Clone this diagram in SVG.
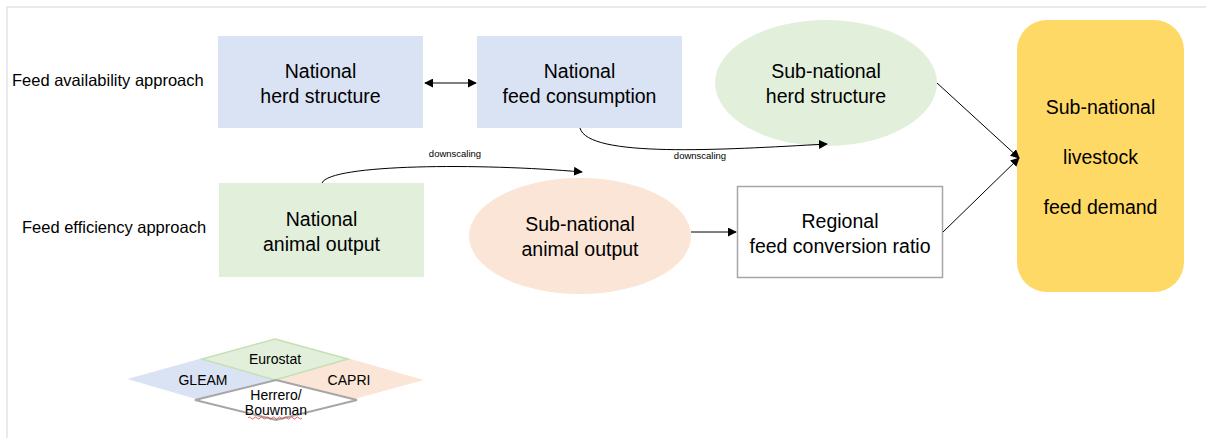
<svg xmlns="http://www.w3.org/2000/svg" width="1206" height="438" viewBox="0 0 1206 438">
<style>
  .t { font-family: "Liberation Sans", Arial, sans-serif; fill: #000; }
  .n { font-size: 19.5px; text-anchor: middle; }
  .lbl { font-size: 16.5px; }
  .sm { font-size: 9.5px; text-anchor: middle; }
  .lg { font-size: 14px; text-anchor: middle; }
  .c { fill: none; stroke: #000; stroke-width: 1; }
</style>
<defs>
  <marker id="ah" viewBox="0 0 10 10" refX="9" refY="5" markerWidth="9" markerHeight="9" markerUnits="userSpaceOnUse" orient="auto-start-reverse">
    <path d="M0,0 L10,5 L0,10 z" fill="#000"/>
  </marker>
</defs>
<rect width="1206" height="438" fill="#fff"/>
<path d="M7,438 V7 H1206" fill="none" stroke="#e2e2e2" stroke-width="1.5"/>

<text class="t lbl" x="12" y="86">Feed availability approach</text>
<text class="t lbl" x="22" y="233">Feed efficiency approach</text>

<g id="national-herd">
  <rect x="218" y="36" width="205" height="92" fill="#dae3f3"/>
  <text class="t n" x="320.5" y="78">National</text>
  <text class="t n" x="320.5" y="103">herd structure</text>
</g>
<g id="national-feed">
  <rect x="477" y="36" width="205" height="92" fill="#dae3f3"/>
  <text class="t n" x="579.5" y="78">National</text>
  <text class="t n" x="579.5" y="103">feed consumption</text>
</g>
<g id="subnational-herd">
  <ellipse cx="826" cy="83" rx="111" ry="63" fill="#e2efda"/>
  <text class="t n" x="826" y="78">Sub-national</text>
  <text class="t n" x="826" y="103">herd structure</text>
</g>
<g id="demand">
  <rect x="1017" y="20" width="167" height="272" rx="30" ry="30" fill="#ffd966"/>
  <text class="t n" x="1100.5" y="114">Sub-national</text>
  <text class="t n" x="1100.5" y="164">livestock</text>
  <text class="t n" x="1100.5" y="214">feed demand</text>
</g>
<g id="national-output">
  <rect x="219" y="183" width="205" height="94" fill="#e2efda"/>
  <text class="t n" x="321.5" y="226">National</text>
  <text class="t n" x="321.5" y="251">animal output</text>
</g>
<g id="subnational-output">
  <ellipse cx="580" cy="236" rx="111" ry="58" fill="#fbe5d6"/>
  <text class="t n" x="580" y="231">Sub-national</text>
  <text class="t n" x="580" y="256">animal output</text>
</g>
<g id="regional-fcr">
  <rect x="737.5" y="186.5" width="205" height="91" fill="#fff" stroke="#a6a6a6" stroke-width="1.5"/>
  <text class="t n" x="840" y="228">Regional</text>
  <text class="t n" x="840" y="253">feed conversion ratio</text>
</g>

<g id="connectors">
  <line class="c" x1="425" y1="83" x2="476" y2="83" marker-start="url(#ah)" marker-end="url(#ah)"/>
  <path class="c" d="M580,128 C588,158 720,150 827,144" marker-end="url(#ah)"/>
  <text class="t sm" x="700" y="159">downscaling</text>
  <path class="c" d="M322,183 C330,164 480,163 582,172" marker-end="url(#ah)"/>
  <text class="t sm" x="455" y="157">downscaling</text>
  <line class="c" x1="691" y1="232" x2="736" y2="232" marker-end="url(#ah)"/>
  <line class="c" x1="937" y1="83" x2="1019" y2="158" marker-end="url(#ah)"/>
  <line class="c" x1="943" y1="232" x2="1019" y2="158" marker-end="url(#ah)"/>
</g>

<g id="legend">
  <polygon points="202,359 275,380 202,400 130,379" fill="#dae3f3" stroke="#dae3f3" stroke-width="1.5"/>
  <polygon points="348,359 421,380 348,400 275,380" fill="#fbe5d6" stroke="#fbe5d6" stroke-width="1.5"/>
  <polygon points="275,339 348,359 275,380 202,359" fill="#e2efda" stroke="#c5e0b4" stroke-width="1.5"/>
  <polygon points="276,380 357,400 276,420 195,400" fill="#fff" stroke="#a6a6a6" stroke-width="2"/>
  <text class="t lg" x="275" y="364">Eurostat</text>
  <text class="t lg" x="203" y="385">GLEAM</text>
  <text class="t lg" x="349" y="385">CAPRI</text>
  <text class="t lg" x="276" y="400">Herrero/</text>
  <text class="t lg" x="276" y="415">Bouwman</text>
  <path d="M248,418 q1.5,-2 3,0 t3,0 t3,0 t3,0 t3,0 t3,0 t3,0 t3,0 t3,0 t3,0 t3,0 t3,0 t3,0 t3,0 t3,0 t3,0 t3,0 t3,0" fill="none" stroke="#e33" stroke-width="0.8"/>
</g>
</svg>
